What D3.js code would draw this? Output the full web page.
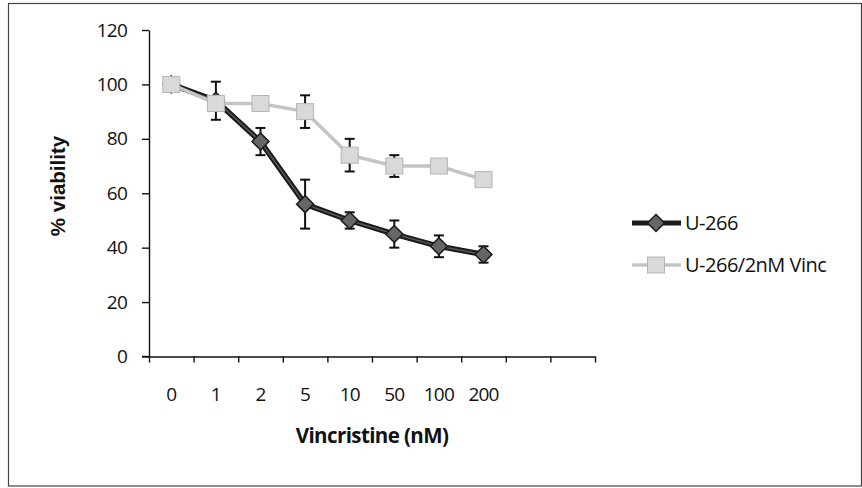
<!DOCTYPE html>
<html>
<head>
<meta charset="utf-8">
<script src="https://cdn.jsdelivr.net/npm/d3@7"></script>
<style>
  html, body { margin: 0; padding: 0; background: #fff; }
  svg { display: block; }
  .tick text { font-family: "Open Sans", Lato, sans-serif; font-size: 19px; fill: #111; letter-spacing: -0.8px; }
</style>
</head>
<body>
<svg id="chart" width="862" height="488"></svg>
<script>
// Vincristine doses (nM) on the category axis; the axis has two spare slots at the end
const doses = ["0", "1", "2", "5", "10", "50", "100", "200"];
const slotCount = 10;
const yTicks = [0, 20, 40, 60, 80, 100, 120];

// % viability, mean and error per dose
const u266 = [100, 94, 79, 56, 50, 45, 40.5, 37.5];
const u266Err = [0, 7, 5, 9, 3, 5, 4, 3];
const u266Vinc = [100, 93, 93, 90, 74, 70, 70, 65];
const u266VincErr = [0, 0, 0, 6, 6, 4, 0, 0];

const seriesNames = ["U-266", "U-266/2nM Vinc"];

const svg = d3.select("#chart");
const W = 862, H = 488;
const labelFont = "'Open Sans', Lato, sans-serif";

// outer frame
svg.append("rect")
  .attr("x", 8.5).attr("y", 3.5)
  .attr("width", W - 9).attr("height", H - 5.5)
  .attr("fill", "none").attr("stroke", "#444").attr("stroke-width", 1.2);

const plot = { left: 149, right: 595, top: 30, bottom: 356.5 };

// category slots -> pixel (slot boundaries at integers, points at slot centres)
const xs = d3.scaleLinear().domain([0, slotCount]).range([plot.left, plot.right]);
const y = d3.scaleLinear().domain([0, 120]).range([plot.bottom, plot.top]);
const xc = i => xs(i + 0.5);

// y axis
const yAxis = svg.append("g")
  .attr("transform", `translate(${plot.left},0)`)
  .call(d3.axisLeft(y).tickValues(yTicks).tickSize(7).tickPadding(15).tickSizeOuter(0));
yAxis.select(".domain").attr("stroke", "#111").attr("stroke-width", 1.4);
yAxis.selectAll(".tick line").attr("stroke", "#111").attr("stroke-width", 1.4);

// x axis: tick marks at slot boundaries, labels at slot centres
const xAxis = svg.append("g")
  .attr("transform", `translate(0,${plot.bottom})`)
  .call(d3.axisBottom(xs).tickValues(d3.range(0, slotCount + 1)).tickSize(6).tickFormat("").tickSizeOuter(0));
xAxis.select(".domain").attr("stroke", "#111").attr("stroke-width", 1.4);
xAxis.selectAll(".tick line").attr("stroke", "#111").attr("stroke-width", 1.4);
// axis line runs left past the y axis like the 0 tick
svg.append("line")
  .attr("x1", plot.left - 7).attr("x2", plot.left)
  .attr("y1", plot.bottom).attr("y2", plot.bottom)
  .attr("stroke", "#111").attr("stroke-width", 1.4);

svg.append("g").selectAll("text")
  .data(doses)
  .join("text")
  .attr("x", (d, i) => xc(i))
  .attr("y", 401)
  .attr("text-anchor", "middle")
  .attr("font-family", labelFont)
  .attr("font-size", 19)
  .attr("letter-spacing", -0.8)
  .attr("fill", "#111")
  .text(d => d);

// axis titles
svg.append("text")
  .attr("x", (plot.left + plot.right) / 2)
  .attr("y", 443)
  .attr("text-anchor", "middle")
  .attr("font-family", labelFont)
  .attr("font-weight", "bold")
  .attr("font-size", 20.5)
  .attr("fill", "#111")
  .attr("letter-spacing", -0.6)
  .text("Vincristine (nM)");

svg.append("text")
  .attr("transform", `translate(65,186) rotate(-90)`)
  .attr("text-anchor", "middle")
  .attr("font-family", "'Liberation Sans', Arial, sans-serif")
  .attr("font-weight", "bold")
  .attr("font-size", 20.5)
  .attr("fill", "#111")
  .text("% viability");

const line = d3.line().x((d, i) => xc(i)).y(d => y(d));

function errorBars(vals, errs) {
  const g = svg.append("g").attr("stroke", "#111").attr("stroke-width", 2);
  vals.forEach((v, i) => {
    if (!errs[i]) return;
    const x = xc(i), y1 = y(v + errs[i]), y2 = y(v - errs[i]);
    g.append("line").attr("x1", x).attr("x2", x).attr("y1", y1).attr("y2", y2);
    g.append("line").attr("x1", x - 5).attr("x2", x + 5).attr("y1", y1).attr("y2", y1);
    g.append("line").attr("x1", x - 5).attr("x2", x + 5).attr("y1", y2).attr("y2", y2);
  });
}

const diamond = (cx, cy, r) => `M${cx},${cy - r}L${cx + r},${cy}L${cx},${cy + r}L${cx - r},${cy}Z`;

// U-266 series
svg.append("path").datum(u266).attr("d", line)
  .attr("fill", "none").attr("stroke", "#1a1a1a").attr("stroke-width", 5.5);
svg.append("path").datum(u266).attr("d", line)
  .attr("fill", "none").attr("stroke", "#555").attr("stroke-width", 1.6);
errorBars(u266, u266Err);
svg.append("g").selectAll("path")
  .data(u266).join("path")
  .attr("d", (d, i) => diamond(xc(i), y(d), 8.5))
  .attr("fill", "#666").attr("stroke", "#1a1a1a").attr("stroke-width", 1.5);

// U-266/2nM Vinc series
svg.append("path").datum(u266Vinc).attr("d", line)
  .attr("fill", "none").attr("stroke", "#c4c4c4").attr("stroke-width", 3.5);
errorBars(u266Vinc, u266VincErr);
svg.append("g").selectAll("rect")
  .data(u266Vinc).join("rect")
  .attr("x", (d, i) => xc(i) - 8.5).attr("y", d => y(d) - 8)
  .attr("width", 17).attr("height", 16)
  .attr("fill", "#d9d9d9").attr("stroke", "#b5b5b5").attr("stroke-width", 1);

// legend
const legendY = [223, 265];
const lx1 = 632, lx2 = 681, lm = 656;
svg.append("line").attr("x1", lx1).attr("x2", lx2).attr("y1", legendY[0]).attr("y2", legendY[0])
  .attr("stroke", "#1a1a1a").attr("stroke-width", 5);
svg.append("path").attr("d", diamond(lm, legendY[0], 8.5))
  .attr("fill", "#666").attr("stroke", "#1a1a1a").attr("stroke-width", 1.5);
svg.append("line").attr("x1", lx1).attr("x2", lx2).attr("y1", legendY[1]).attr("y2", legendY[1])
  .attr("stroke", "#c4c4c4").attr("stroke-width", 3.5);
svg.append("rect").attr("x", lm - 8.5).attr("y", legendY[1] - 8).attr("width", 17).attr("height", 16)
  .attr("fill", "#d9d9d9").attr("stroke", "#b5b5b5").attr("stroke-width", 1);

svg.append("g").selectAll("text")
  .data(seriesNames).join("text")
  .attr("x", 685)
  .attr("y", (d, i) => legendY[i] + 7)
  .attr("font-family", labelFont)
  .attr("font-size", 20)
  .attr("fill", "#111")
  .attr("letter-spacing", -0.5)
  .text(d => d);
</script>
</body>
</html>
